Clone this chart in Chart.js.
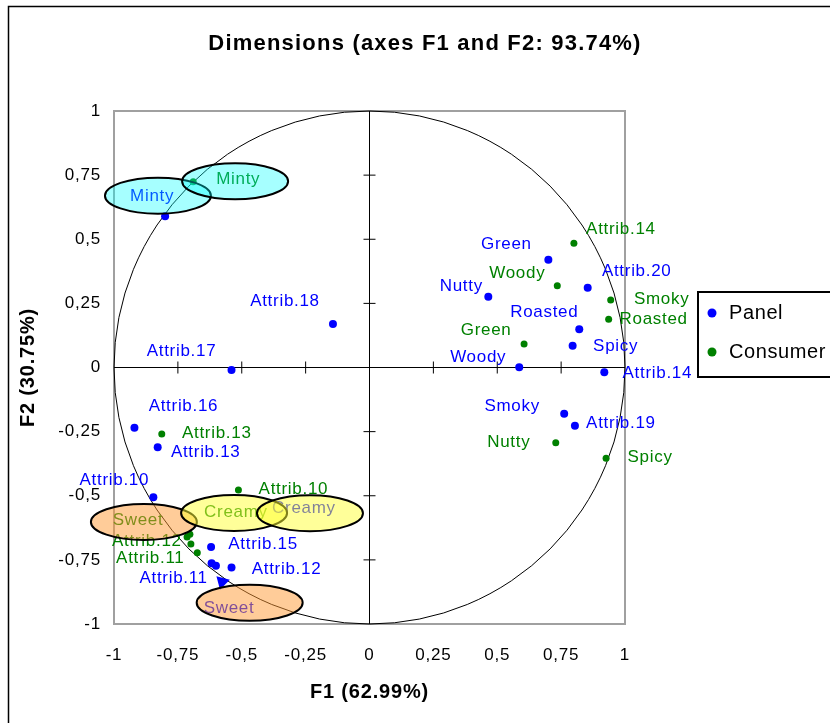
<!DOCTYPE html>
<html>
<head>
<meta charset="utf-8">
<script src="https://cdn.jsdelivr.net/npm/chart.js@4.4.1/dist/chart.umd.min.js"></script>
<style>
  html, body { margin: 0; padding: 0; background: #fff; overflow: hidden; }
  canvas { display: block; }
</style>
</head>
<body>
<canvas id="biplot" width="830" height="723"></canvas>
<script>
// correlation circle, F1 x F2
const tickValues = [-1, -0.75, -0.5, -0.25, 0, 0.25, 0.5, 0.75, 1];

const panelNames = ['Minty', 'Attrib.18', 'Attrib.17', 'Green', 'Nutty', 'Attrib.20', 'Roasted', 'Spicy', 'Woody',
  'Attrib.14', 'Smoky', 'Attrib.19', 'Attrib.16', 'Attrib.13', 'Attrib.10', 'Attrib.15', 'Attrib.11', 'Attrib.12',
  'Creamy', 'Sweet'];
const panelF1 = [-0.80, -0.143, -0.54, 0.70, 0.465, 0.854, 0.821, 0.795, 0.586,
  0.919, 0.762, 0.804, -0.92, -0.829, -0.846, -0.62, -0.618, -0.54,
  -0.601, -0.577];
const panelF2 = [0.59, 0.17, -0.01, 0.42, 0.276, 0.311, 0.149, 0.085, 0.001,
  -0.019, -0.18, -0.227, -0.235, -0.311, -0.506, -0.70, -0.763, -0.78,
  -0.773, -0.836];

const consumerNames = ['Minty', 'Attrib.14', 'Woody', 'Smoky', 'Roasted', 'Green', 'Nutty', 'Spicy',
  'Attrib.13', 'Attrib.10', 'Attrib.12', 'Sweet', 'Creamy', 'Attrib.11'];
const consumerF1 = [-0.69, 0.80, 0.735, 0.944, 0.936, 0.605, 0.729, 0.926,
  -0.813, -0.513, -0.703, -0.714, -0.699, -0.674];
const consumerF2 = [0.724, 0.484, 0.319, 0.263, 0.188, 0.092, -0.293, -0.354,
  -0.259, -0.478, -0.650, -0.661, -0.688, -0.722];

// label placement, pixel offsets from each point
const panelLabelOffsets = [[-13, -20], [-48, -23], [-50, -19], [-42, -15], [-27, -10], [49, -16], [-35, -17], [43, 1], [-41, -10],
  [53, 1], [-52, -7], [46, -2], [49, -21], [48, 5], [-39, -17], [52, -3], [-38, 15], [55, 2],
  [88, -57], [7, 26]];
const consumerLabelOffsets = [[45, -2], [47, -14], [-40, -12], [51, -1], [45, 0], [-38, -14], [-47, 0], [44, -1],
  [55, -1], [55, -1], [-43, 7], [-49, -17], [45, -32], [-47, 6]];

const BLUE = '#0000ff';
const GREEN = '#008000';
const CYAN = 'rgba(0, 255, 255, 0.35)';
const PEACH = 'rgba(255, 153, 51, 0.5)';
const YELLOW = 'rgba(255, 255, 51, 0.5)';

// highlight ellipses round the moved labels
const highlights = [
  { x: -0.828, y: 0.670, fill: CYAN },
  { x: -0.526, y: 0.726, fill: CYAN },
  { x: -0.883, y: -0.602, fill: PEACH },
  { x: -0.530, y: -0.567, fill: YELLOW },
  { x: -0.233, y: -0.568, fill: YELLOW },
  { x: -0.469, y: -0.917, fill: PEACH },
];

const fmtTick = (v) => String(Math.round(v * 100) / 100).replace('.', ',');
const toPoints = (xs, ys) => xs.map((x, i) => ({ x, y: ys[i] }));

const biplotDecor = {
  id: 'biplotDecor',
  beforeDraw(chart) {
    chart.ctx.letterSpacing = '0.8px';
  },
  beforeDatasetsDraw(chart) {
    const { ctx, chartArea: a, scales: { x, y } } = chart;
    ctx.save();
    ctx.strokeStyle = '#a0a0a0';
    ctx.lineWidth = 2;
    ctx.strokeRect(a.left, a.top, a.width, a.height);

    const cx = x.getPixelForValue(0), cy = y.getPixelForValue(0);
    ctx.beginPath();
    ctx.ellipse(cx, cy, x.getPixelForValue(1) - cx, cy - y.getPixelForValue(1), 0, 0, Math.PI * 2);
    ctx.strokeStyle = '#000';
    ctx.lineWidth = 1;
    ctx.stroke();

    ctx.beginPath();
    ctx.moveTo(a.left, cy); ctx.lineTo(a.right, cy);
    ctx.moveTo(cx, a.top); ctx.lineTo(cx, a.bottom);
    tickValues.forEach((v) => {
      if (v === 0 || Math.abs(v) === 1) return;
      const px = x.getPixelForValue(v), py = y.getPixelForValue(v);
      ctx.moveTo(px, cy - 6); ctx.lineTo(px, cy + 6);
      ctx.moveTo(cx - 6, py); ctx.lineTo(cx + 6, py);
    });
    ctx.stroke();
    ctx.restore();
  },
  afterDatasetsDraw(chart) {
    const { ctx, scales: { x, y } } = chart;
    ctx.save();
    ctx.font = '17px "Liberation Sans", Arial, sans-serif';
    ctx.letterSpacing = '0.7px';
    ctx.textAlign = 'center';
    ctx.textBaseline = 'middle';
    chart.data.datasets.forEach((ds, di) => {
      ctx.fillStyle = ds.borderColor;
      chart.getDatasetMeta(di).data.forEach((pt, i) => {
        const [dx, dy] = ds.labelOffsets[i];
        ctx.fillText(ds.names[i], pt.x + dx, pt.y + dy);
      });
    });

    highlights.forEach((h) => {
      ctx.beginPath();
      ctx.ellipse(x.getPixelForValue(h.x), y.getPixelForValue(h.y), 53, 18, 0, 0, Math.PI * 2);
      ctx.fillStyle = h.fill;
      ctx.fill();
      ctx.strokeStyle = '#000';
      ctx.lineWidth = 2;
      ctx.stroke();
    });
    ctx.restore();
  },
  afterDraw(chart) {
    const { ctx } = chart;
    ctx.save();
    ctx.fillStyle = '#000';
    ctx.font = 'bold 22px "Liberation Sans", Arial, sans-serif';
    ctx.letterSpacing = '1.2px';
    ctx.textAlign = 'center';
    ctx.textBaseline = 'middle';
    ctx.fillText('Dimensions (axes F1 and F2: 93.74%)', 425, 44);

    // legend
    ctx.strokeStyle = '#000';
    ctx.lineWidth = 2;
    ctx.strokeRect(698, 292, 200, 85);
    ctx.font = '20px "Liberation Sans", Arial, sans-serif';
    ctx.letterSpacing = '0.6px';
    ctx.textAlign = 'left';
    chart.data.datasets.forEach((ds, i) => {
      const ly = 313 + i * 39;
      ctx.beginPath();
      ctx.arc(712, ly, 4.5, 0, Math.PI * 2);
      ctx.fillStyle = ds.backgroundColor;
      ctx.fill();
      ctx.fillStyle = '#000';
      ctx.fillText(ds.label, 729, ly);
    });

    ctx.lineWidth = 1.5;
    ctx.strokeRect(8.5, 6.5, 1000, 1000);
    ctx.restore();
  },
};

const axisFont = { family: '"Liberation Sans", Arial, sans-serif', size: 17 };
const titleFont = { family: '"Liberation Sans", Arial, sans-serif', size: 20, weight: 'bold' };

new Chart(document.getElementById('biplot'), {
  type: 'scatter',
  data: {
    datasets: [
      {
        label: 'Panel',
        names: panelNames,
        labelOffsets: panelLabelOffsets,
        data: toPoints(panelF1, panelF2),
        backgroundColor: BLUE,
        borderColor: BLUE,
        borderWidth: 0,
        pointRadius: panelNames.map((n) => (n === 'Sweet' ? 8 : 4)),
        pointStyle: panelNames.map((n) => (n === 'Sweet' ? 'triangle' : 'circle')),
        rotation: panelNames.map((n) => (n === 'Sweet' ? -45 : 0)),
      },
      {
        label: 'Consumer',
        names: consumerNames,
        labelOffsets: consumerLabelOffsets,
        data: toPoints(consumerF1, consumerF2),
        backgroundColor: GREEN,
        borderColor: GREEN,
        borderWidth: 0,
        pointRadius: 3.5,
      },
    ],
  },
  options: {
    responsive: false,
    animation: false,
    events: [],
    layout: { padding: { left: 10, top: 111, right: 205, bottom: 10 } },
    plugins: { legend: { display: false }, tooltip: { enabled: false }, title: { display: false } },
    scales: {
      x: {
        type: 'linear', min: -1, max: 1,
        afterBuildTicks: (s) => { s.ticks = tickValues.map((value) => ({ value })); },
        afterFit: (s) => { s.height = 89; },
        grid: { display: false, drawTicks: false },
        border: { display: false },
        ticks: { color: '#000', font: axisFont, padding: 21, maxRotation: 0, autoSkip: false, callback: fmtTick },
        title: { display: true, text: 'F1 (62.99%)', color: '#000', font: titleFont, padding: { top: 0, bottom: 9 } },
      },
      y: {
        type: 'linear', min: -1, max: 1,
        afterBuildTicks: (s) => { s.ticks = tickValues.map((value) => ({ value })); },
        afterFit: (s) => { s.width = 104; },
        grid: { display: false, drawTicks: false },
        border: { display: false },
        ticks: { color: '#000', font: axisFont, padding: 13, autoSkip: false, callback: fmtTick },
        title: { display: true, text: 'F2 (30.75%)', color: '#000', font: titleFont, padding: { top: 6, bottom: 0 } },
      },
    },
  },
  plugins: [biplotDecor],
});
</script>
</body>
</html>
